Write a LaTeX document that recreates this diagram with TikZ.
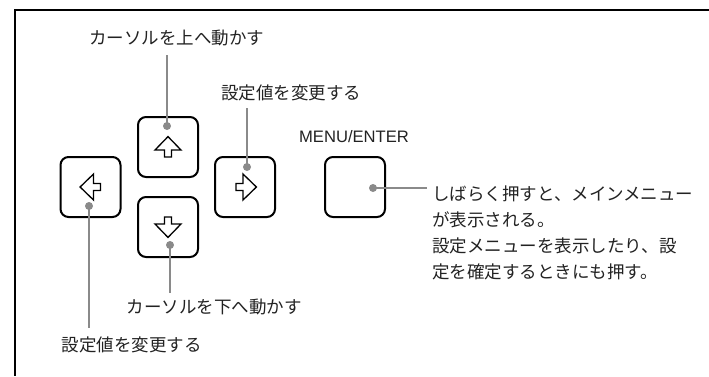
\documentclass[tikz,border=0pt]{standalone}
\usepackage{fontspec}
\setmainfont{Liberation Sans}
\newfontfamily\jp{Noto Sans CJK JP}
\definecolor{leadgray}{HTML}{8A8A8A}
\definecolor{txt}{HTML}{222222}
\tikzset{
  keybox/.style={draw=black, line width=2pt, rounded corners=8pt, minimum size=60pt, inner sep=0pt},
  leaddot/.style={circle, fill=leadgray, minimum size=8pt, inner sep=0pt},
  leadline/.style={draw=leadgray, line width=2pt},
  lbl/.style={font=\jp\fontsize{17.5}{26}\selectfont, text=txt, inner sep=0pt},
  keyarrow/.pic={\draw[line width=1.3pt, line join=miter, fill=white]
     (0,-10.4) -- (13,3) -- (3.5,3) -- (3.5,10) -- (-3.5,10) -- (-3.5,3) -- (-13,3) -- cycle;}
}
\begin{document}
\begin{tikzpicture}[x=1pt,y=-1pt]
\useasboundingbox (0,0) rectangle (709,376);
% frame
\draw[line width=2pt] (709,10) -- (15,10) -- (15,376);
% keys
\node[keybox] (kup) at (168,147) {};
\node[keybox] (kdown) at (168,227) {};
\node[keybox] (kleft) at (90.5,187) {};
\node[keybox] (kright) at (245,187) {};
\node[keybox] (kmenu) at (355,187) {};
% arrow glyphs
\pic at (kup.center) {keyarrow};
\pic[rotate=180] at (kdown.center) {keyarrow};
\pic[rotate=90] at (kleft.center) {keyarrow};
\pic[rotate=-90] at ([xshift=1pt]kright.center) {keyarrow};
% labels
\node[lbl] (lup) at (176.7,38) {カーソルを上へ動かす};
\node[lbl] (lright) at (291,93) {設定値を変更する};
\node[font=\fontsize{16.6}{18}\selectfont, text=txt, inner sep=0pt] (lmenu) at (354,137) {MENU/ENTER};
\node[lbl] (ldown) at (214,307) {カーソルを下へ動かす};
\node[lbl] (lleft) at (131.5,345) {設定値を変更する};
\node[lbl, align=left, anchor=north west] (ldesc) at (432,185.5)
  {しばらく押すと、メインメニュー\\が表示される。\\設定メニューを表示したり、設\\定を確定するときにも押す。};
% leader dots
\node[leaddot] (dup) at (167,126) {};
\node[leaddot] (ddown) at (170,245) {};
\node[leaddot] (dleft) at (89,206) {};
\node[leaddot] (dright) at (247,167) {};
\node[leaddot] (dmenu) at (373,188) {};
% leader ends
\coordinate (eup) at (167,55);
\coordinate (edown) at (170,293);
\coordinate (eleft) at (89,328);
\coordinate (eright) at (247,108);
\coordinate (emenu) at (427,188);
\draw[leadline] (dup.center) -- (eup);
\draw[leadline] (ddown.center) -- (edown);
\draw[leadline] (dleft.center) -- (eleft);
\draw[leadline] (dright.center) -- (eright);
\draw[leadline] (dmenu.center) -- (emenu);
\end{tikzpicture}
\end{document}
